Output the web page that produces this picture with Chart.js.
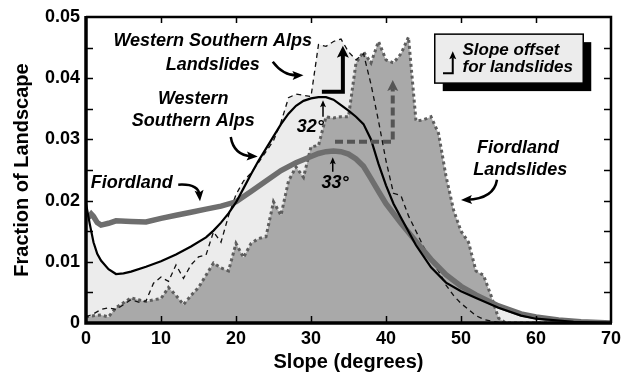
<!DOCTYPE html>
<html><head><meta charset="utf-8">
<script src="https://cdn.jsdelivr.net/npm/chart.js@4.4.1/dist/chart.umd.min.js"></script>
<style>html,body{margin:0;padding:0;background:#fff;}#wrap{width:634px;height:374px;position:relative;}</style>
</head><body><div id="wrap"><canvas id="c" width="634" height="374"></canvas></div>
<script>
// ---- data ----
const slopeTicks = [0, 10, 20, 30, 40, 50, 60, 70];
const fractionTicks = [0, 0.01, 0.02, 0.03, 0.04, 0.05];
const fractionMinorTicks = [0.005, 0.01, 0.015, 0.02, 0.025, 0.03, 0.035, 0.04, 0.045];

const landslideSlope = [0,1,2,3,4,5,6,7,8,9,10,11,12,13,14,15,16,17,18,19,20,21,22,23,24,25,26,27,28,29,30,31,32,33,34,35,36,37,38,39,40,41,42,43,44,45,46,47,48,49,50,51,52,53,54,55,56,70];
const fiordlandLandslides = [0.001,0.0012,0.0013,0.001,0.0025,0.0033,0.0041,0.0038,0.0035,0.0038,0.004,0.0058,0.0045,0.003,0.0045,0.0058,0.0078,0.0098,0.009,0.0085,0.013,0.0107,0.013,0.0138,0.0141,0.0198,0.0176,0.0232,0.0255,0.0238,0.0288,0.029,0.0337,0.0335,0.0337,0.0337,0.0425,0.0443,0.0425,0.046,0.043,0.0425,0.044,0.0467,0.033,0.0332,0.0337,0.031,0.024,0.0185,0.015,0.0132,0.0085,0.0078,0.0045,0.0008,0,0];
const wsaLandslides = [0.001,0.0015,0.0022,0.0025,0.0022,0.003,0.0038,0.0034,0.0036,0.0065,0.0075,0.0068,0.0095,0.0073,0.0095,0.0108,0.0111,0.0149,0.0132,0.0175,0.021,0.0232,0.0245,0.0262,0.028,0.0298,0.0328,0.0368,0.0374,0.0372,0.037,0.0455,0.0452,0.046,0.0464,0.0443,0.043,0.044,0.039,0.033,0.0265,0.0212,0.0208,0.0175,0.015,0.0125,0.0102,0.0085,0.0062,0.0045,0.0032,0.0022,0.0012,0.0006,0.0003,0.0001,0,0];

const wsaSlope = [0,0.5,1,1.5,2,3,4,5,6,8,10,12,14,16,17,18,19,20,21,22,23,24,25,26,27,28,29,30,31,32,33,34,35,36,37,38,39,40,41,42,44,46,48,50,52,55,58,60,65,70];
const wsaFraction = [0.0195,0.0162,0.0132,0.0113,0.0102,0.0088,0.008,0.0081,0.0084,0.0092,0.0101,0.0112,0.0125,0.014,0.0151,0.0164,0.0179,0.0197,0.022,0.0243,0.0265,0.0285,0.0305,0.0325,0.0342,0.0355,0.0363,0.0367,0.0369,0.0369,0.0365,0.0356,0.0347,0.0337,0.0325,0.030,0.026,0.0225,0.0195,0.0172,0.0127,0.0091,0.0066,0.0052,0.0041,0.0025,0.0012,0.0007,0.0002,0];

const fiordlandSlope = [0.3,0.7,1,1.5,2,3,4,6,8,10,12,14,16,18,20,22,24,26,28,30,31,32,33,34,35,36,37,38,39,40,42,44,46,48,50,52,55,58,60,63,66,70];
const fiordlandFraction = [0.0172,0.0178,0.0174,0.0164,0.016,0.0163,0.0167,0.0166,0.0165,0.0171,0.0176,0.0181,0.0186,0.0191,0.0198,0.0215,0.0232,0.0249,0.0262,0.0272,0.0277,0.028,0.0281,0.028,0.0276,0.0268,0.0256,0.0236,0.0215,0.0195,0.0163,0.0133,0.0104,0.0079,0.006,0.0046,0.0028,0.0015,0.001,0.0005,0.0002,0];

// ---- helpers ----
const pts = (xs, ys) => xs.map((x, i) => ({x: x, y: ys[i]}));
const FONT = '"Liberation Sans", Arial, Helvetica, sans-serif';
Chart.defaults.font.family = FONT;

function head(ctx, x, y, ang, len, wid) {
  ctx.save(); ctx.translate(x, y); ctx.rotate(ang);
  ctx.beginPath(); ctx.moveTo(0, 0); ctx.lineTo(-len, -wid / 2); ctx.lineTo(-len * 0.8, 0); ctx.lineTo(-len, wid / 2); ctx.closePath(); ctx.fill();
  ctx.restore();
}

const notes = {
  id: 'notes',
  afterDraw(chart) {
    const ctx = chart.ctx, xs = chart.scales.x, ys = chart.scales.y, a = chart.chartArea;
    const X = v => xs.getPixelForValue(v), Y = v => ys.getPixelForValue(v);
    ctx.save();
    // tick marks (inward)
    ctx.strokeStyle = '#000'; ctx.lineWidth = 1.5;
    slopeTicks.slice(1, -1).forEach(v => {
      const px = Math.round(X(v)) + 0.5;
      ctx.beginPath(); ctx.moveTo(px, a.bottom); ctx.lineTo(px, a.bottom - 7); ctx.stroke();
      ctx.beginPath(); ctx.moveTo(px, a.top); ctx.lineTo(px, a.top + 6); ctx.stroke();
    });
    fractionMinorTicks.forEach(v => {
      const py = Math.round(Y(v)) + 0.5;
      ctx.beginPath(); ctx.moveTo(a.left, py); ctx.lineTo(a.left + 7, py); ctx.stroke();
      ctx.beginPath(); ctx.moveTo(a.right, py); ctx.lineTo(a.right - 7, py); ctx.stroke();
    });
    // frame
    ctx.lineWidth = 2.5;
    ctx.beginPath(); ctx.moveTo(a.left, a.top); ctx.lineTo(a.right, a.top); ctx.lineTo(a.right, a.bottom); ctx.stroke();
    ctx.lineWidth = 3.5;
    ctx.beginPath(); ctx.moveTo(a.left, a.top - 1); ctx.lineTo(a.left, a.bottom); ctx.lineTo(a.right + 1, a.bottom); ctx.stroke();

    // labels
    ctx.fillStyle = '#000'; ctx.textAlign = 'center'; ctx.textBaseline = 'middle';
    ctx.font = 'italic bold 18px ' + FONT;
    ctx.fillText('Western Southern Alps', X(16.9), Y(0.0461));
    ctx.fillText('Landslides', X(16.9), Y(0.0422));
    ctx.fillText('Western', X(14.3), Y(0.0366));
    ctx.fillText('Southern Alps', X(14.3), Y(0.033));
    ctx.fillText('Fiordland', X(6.1), Y(0.0229));
    ctx.fillText('Fiordland', X(57.6), Y(0.0286));
    ctx.fillText('Landslides', X(57.9), Y(0.025));
    ctx.fillText('32°', X(29.9), Y(0.032));
    ctx.fillText('33°', X(33.2), Y(0.0229));

    // curved arrows
    ctx.strokeStyle = '#000'; ctx.lineWidth = 2.5;
    const curve = (x0, y0, cx, cy, x1, y1) => {
      const p0 = [X(x0), Y(y0)], c = [X(cx), Y(cy)], p1 = [X(x1), Y(y1)];
      const ang = Math.atan2(p1[1] - c[1], p1[0] - c[0]);
      const e = [p1[0] - Math.cos(ang) * 6, p1[1] - Math.sin(ang) * 6];
      ctx.beginPath(); ctx.moveTo(p0[0], p0[1]); ctx.quadraticCurveTo(c[0], c[1], e[0], e[1]); ctx.stroke();
      head(ctx, p1[0], p1[1], ang, 11, 9);
    };
    curve(24.9, 0.0427, 26.3, 0.0404, 29.0, 0.0405);
    curve(19.3, 0.0304, 19.7, 0.0274, 22.9, 0.0272);
    curve(12.3, 0.0226, 15.0, 0.0228, 15.2, 0.0199);
    curve(54.8, 0.0234, 54.4, 0.0203, 50.0, 0.0201);

    // small peak arrows
    ctx.lineWidth = 1.5;
    const up = (x, y0, y1) => {
      ctx.beginPath(); ctx.moveTo(X(x), Y(y0)); ctx.lineTo(X(x), Y(y1) + 5); ctx.stroke();
      head(ctx, X(x), Y(y1), -Math.PI / 2, 7, 6);
    };
    up(31.6, 0.0337, 0.0364);
    up(32.9, 0.0247, 0.0271);

    // big black offset arrow
    ctx.lineWidth = 4; ctx.lineCap = 'butt'; ctx.lineJoin = 'miter';
    ctx.beginPath(); ctx.moveTo(X(31.45), Y(0.0378)); ctx.lineTo(X(34.25), Y(0.0378)); ctx.lineTo(X(34.25), Y(0.0438)); ctx.stroke();
    head(ctx, X(34.25), Y(0.0453), -Math.PI / 2, 12, 12);

    // dashed grey offset arrow
    ctx.strokeStyle = '#555'; ctx.fillStyle = '#555'; ctx.lineWidth = 4; ctx.setLineDash([8, 4]);
    ctx.beginPath(); ctx.moveTo(X(33.2), Y(0.0296)); ctx.lineTo(X(40.9), Y(0.0296)); ctx.lineTo(X(40.9), Y(0.0383)); ctx.stroke();
    ctx.setLineDash([]);
    head(ctx, X(40.9), Y(0.0397), -Math.PI / 2, 11, 11);

    // legend box
    const bx0 = X(46.5), bx1 = X(66.3), by0 = Y(0.0472), by1 = Y(0.0392);
    ctx.fillStyle = '#000';
    ctx.fillRect(bx0 + 8, by0 + 8, bx1 - bx0, by1 - by0);
    ctx.fillStyle = '#ececec'; ctx.fillRect(bx0, by0, bx1 - bx0, by1 - by0);
    ctx.strokeStyle = '#000'; ctx.lineWidth = 1.5; ctx.strokeRect(bx0, by0, bx1 - bx0, by1 - by0);
    ctx.lineWidth = 2;
    ctx.beginPath(); ctx.moveTo(X(47.6), Y(0.0408)); ctx.lineTo(X(48.9), Y(0.0408)); ctx.lineTo(X(48.9), Y(0.0433)); ctx.stroke();
    ctx.fillStyle = '#000';
    head(ctx, X(48.9), Y(0.0444), -Math.PI / 2, 8, 7);
    ctx.textAlign = 'left'; ctx.font = 'italic bold 17px ' + FONT;
    ctx.fillText('Slope offset', X(50.2), Y(0.0446));
    ctx.fillText('for landslides', X(50.2), Y(0.0417));
    ctx.restore();
  }
};

const bold = (s) => ({family: FONT, weight: 'bold', size: s});

new Chart(document.getElementById('c'), {
  type: 'line',
  data: {
    datasets: [
      {label: 'wsa landslide area', data: pts(landslideSlope, wsaLandslides), fill: 'origin', backgroundColor: '#ececec', borderColor: 'rgba(0,0,0,0)', borderWidth: 1, order: 10},
      {label: 'wsa area', data: pts(wsaSlope, wsaFraction), fill: 'origin', backgroundColor: '#ececec', borderColor: 'rgba(0,0,0,0)', borderWidth: 1, order: 9},
      {label: 'Fiordland Landslides', data: pts(landslideSlope, fiordlandLandslides), fill: 'origin', backgroundColor: '#a9a9a9', borderColor: '#5e5e5e', borderWidth: 3, borderDash: [3, 3], order: 8},
      {label: 'Western Southern Alps Landslides', data: pts(landslideSlope, wsaLandslides), fill: false, borderColor: '#111', borderWidth: 1.3, borderDash: [5, 4], order: 4},
      {label: 'Fiordland', data: pts(fiordlandSlope, fiordlandFraction), fill: false, borderColor: '#6e6e6e', borderWidth: 5.5, order: 3},
      {label: 'Western Southern Alps', data: pts(wsaSlope, wsaFraction), fill: false, borderColor: '#000', borderWidth: 2.2, order: 2}
    ]
  },
  options: {
    responsive: false, animation: false,
    layout: {padding: {left: 0, right: 23, top: 17, bottom: 0}},
    elements: {point: {radius: 0}, line: {tension: 0}},
    plugins: {legend: {display: false}, tooltip: {enabled: false}},
    scales: {
      x: {
        type: 'linear', min: 0, max: 70,
        afterBuildTicks: s => { s.ticks = slopeTicks.map(v => ({value: v})); },
        afterFit: s => { s.height = 51; },
        ticks: {font: bold(18), color: '#000', padding: 5, maxRotation: 0, autoSkip: false},
        grid: {display: false, drawTicks: false}, border: {display: false},
        title: {display: true, text: 'Slope (degrees)', font: bold(20), color: '#000', padding: {top: 0, bottom: 0}}
      },
      y: {
        type: 'linear', min: 0, max: 0.05,
        afterBuildTicks: s => { s.ticks = fractionTicks.map(v => ({value: v})); },
        afterFit: s => { s.width = 86; },
        ticks: {font: bold(18), color: '#000', padding: 6, callback: v => v === 0 ? '0' : v.toFixed(2)},
        grid: {display: false, drawTicks: false}, border: {display: false},
        title: {display: true, text: 'Fraction of Landscape', font: bold(20), color: '#000', padding: {top: 10, bottom: 0}}
      }
    }
  },
  plugins: [notes]
});
</script></body></html>
